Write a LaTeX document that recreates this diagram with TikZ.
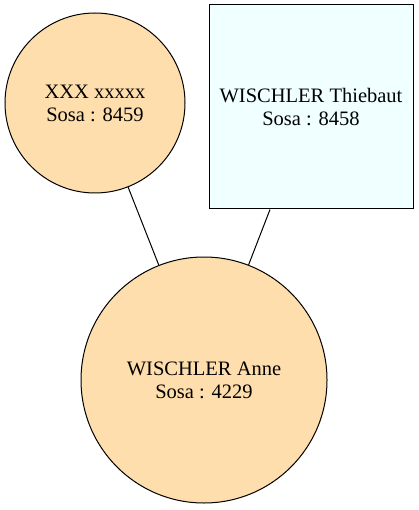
\documentclass[tikz,border=0pt]{standalone}
\usepackage{fontspec}
\setmainfont{Liberation Serif}
\definecolor{nw}{HTML}{FFDEAD}
\definecolor{az}{HTML}{F0FFFF}
\begin{document}
\begin{tikzpicture}[x=1pt,y=-1pt,
  person/.style={draw=black,line width=1pt,circle,fill=nw,inner sep=0pt,align=center,font=\fontsize{20.5}{23}\selectfont},
  personbox/.style={draw=black,line width=1pt,rectangle,fill=az,inner sep=0pt,align=center,font=\fontsize{20.5}{23}\selectfont},
  link/.style={draw=black,line width=1pt}]
\useasboundingbox (0,0) rectangle (418,510);
\node[person,minimum size=180pt] (a) at (95,103) {XXX xxxxx\\Sosa : 8459};
\node[personbox,minimum width=204pt,minimum height=204pt] (b) at (311,107) {WISCHLER Thiebaut\\Sosa : 8458};
\node[person,minimum size=246pt] (c) at (204,380) {WISCHLER Anne\\Sosa : 4229};
\draw[link] (a) -- (c);
\draw[link] (b.south -| 270,0) -- (c);
\end{tikzpicture}
\end{document}
